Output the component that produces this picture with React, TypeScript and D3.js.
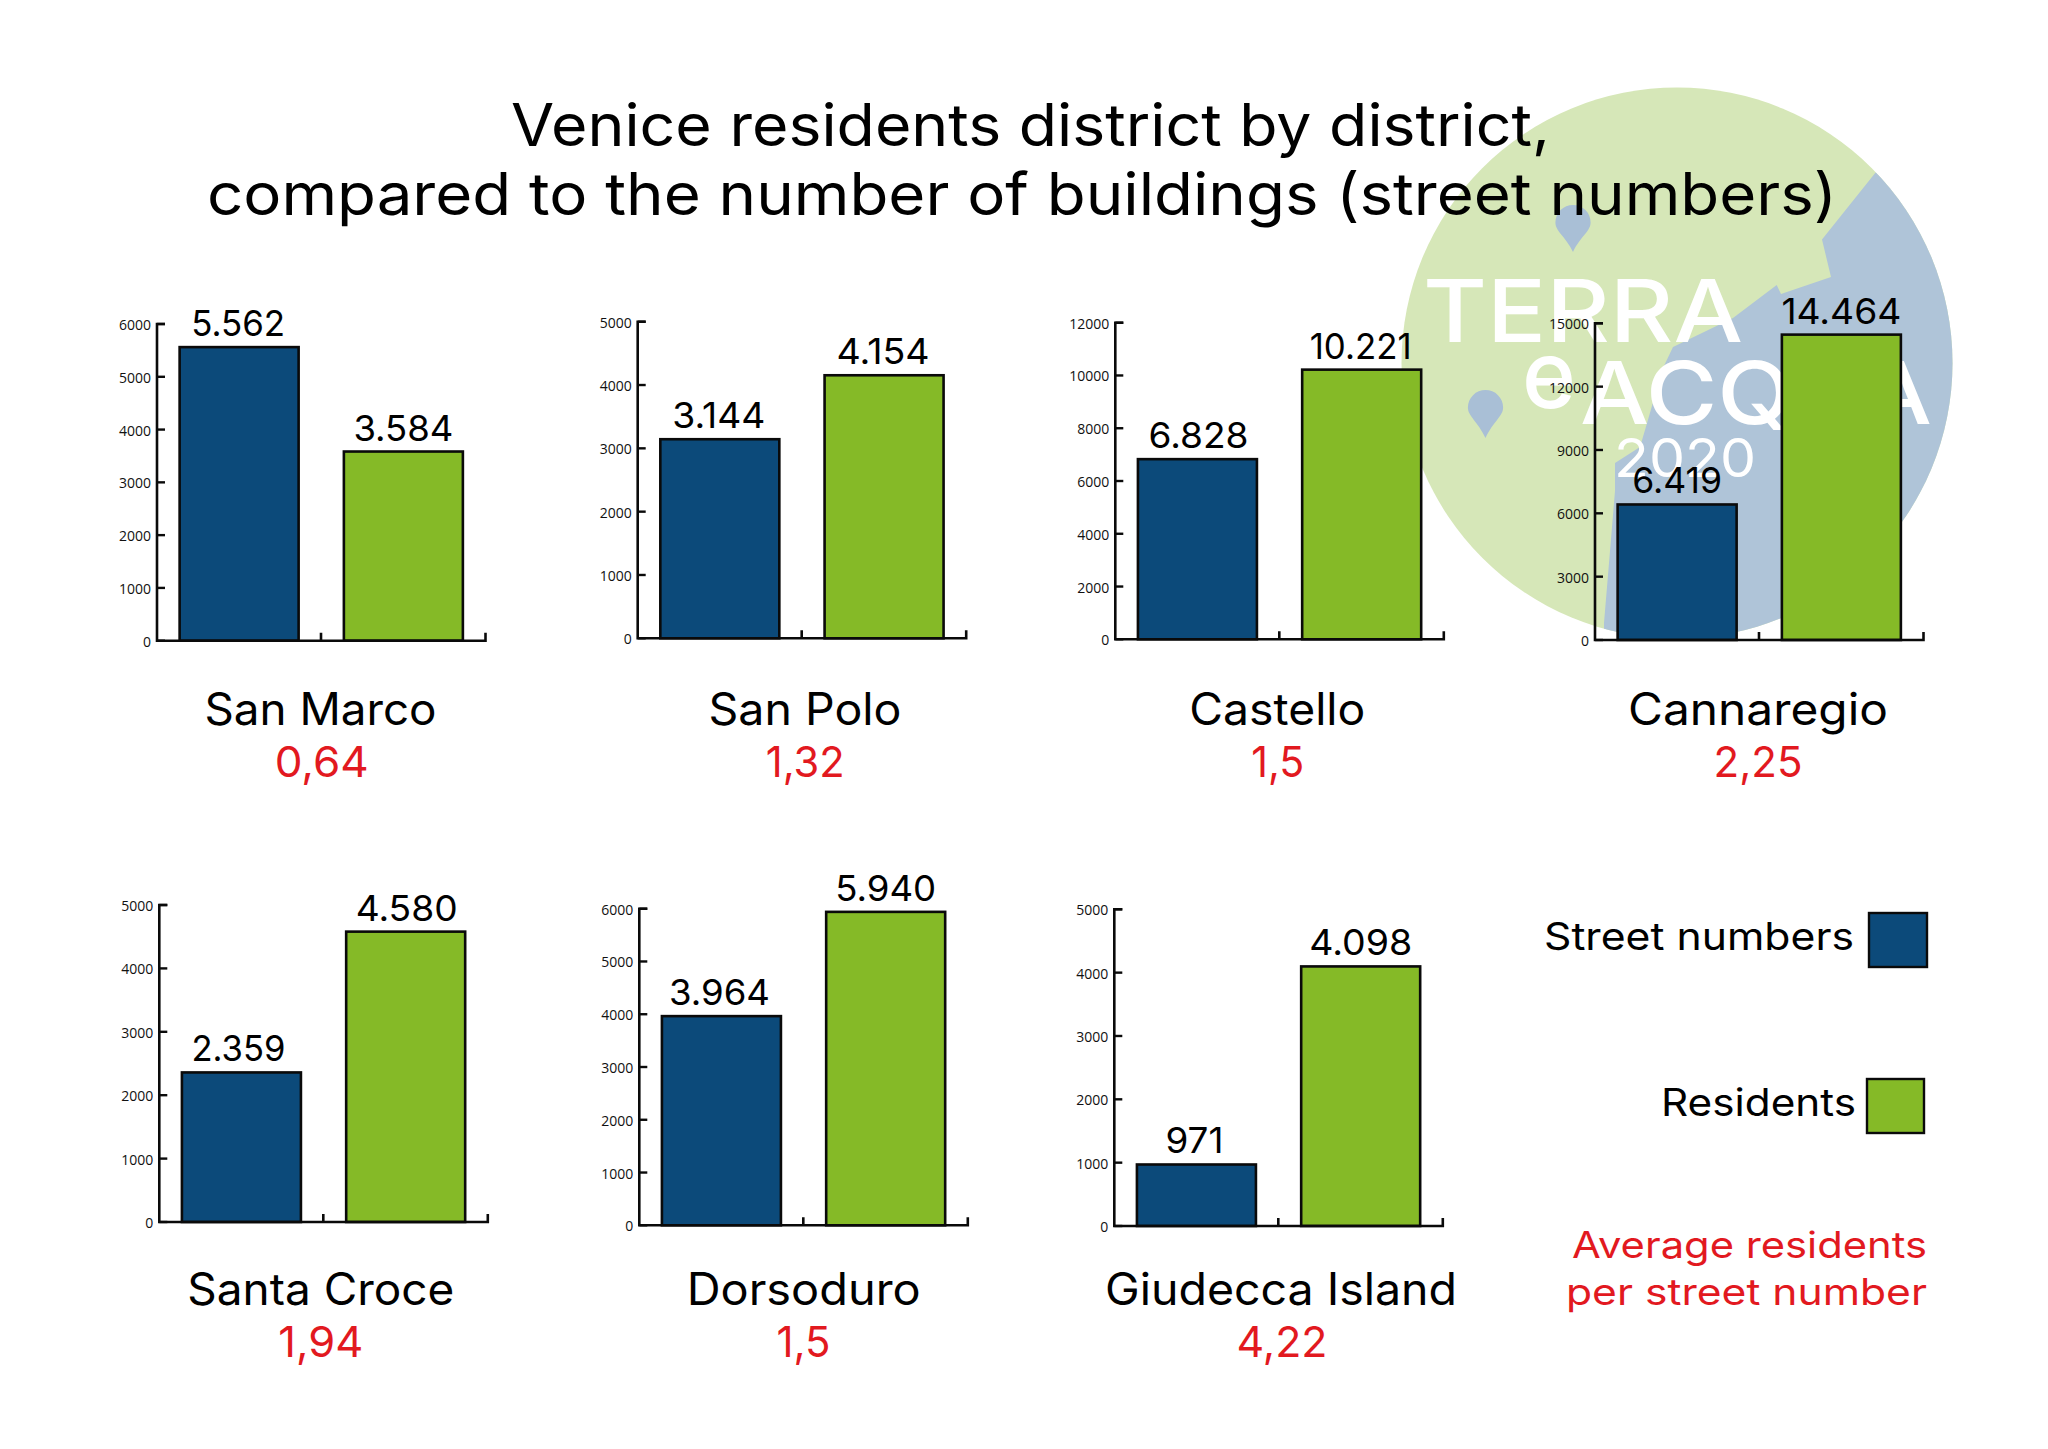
import React from "react";
import * as d3 from "d3";

// ---- data ----
const districts = ["San Marco", "San Polo", "Castello", "Cannaregio", "Santa Croce", "Dorsoduro", "Giudecca Island"];
const streetNumbers = [5562, 3144, 6828, 6419, 2359, 3964, 971];
const residents = [3584, 4154, 10221, 14464, 4580, 5940, 4098];
const streetLabels = ["5.562", "3.144", "6.828", "6.419", "2.359", "3.964", "971"];
const residentLabels = ["3.584", "4.154", "10.221", "14.464", "4.580", "5.940", "4.098"];
const ratios = ["0,64", "1,32", "1,5", "2,25", "1,94", "1,5", "4,22"];
const axisMax = [6000, 5000, 12000, 15000, 5000, 6000, 5000];
const axisStep = [1000, 1000, 2000, 3000, 1000, 1000, 1000];

// ---- layout ----
const axisX = [157, 637.7, 1115.3, 1595, 159.3, 639.3, 1114.3];
const axisTop = [324, 321.7, 322.7, 323.3, 905, 908.7, 909.3];
const axisBase = [640.7, 638.3, 639.3, 640, 1222, 1225.3, 1226];
const nameX = [320.5, 805, 1277.3, 1758, 320.8, 803.7, 1281];
const ratioX = [321.7, 805.2, 1277.7, 1758, 320.8, 803.5, 1282];
const rowNameY = [724.5, 724.5, 724.5, 724.5, 1304.5, 1304.5, 1304.5];
const rowRatioY = [777, 777, 777, 777, 1357, 1357, 1357];
const nameW = [232, 193, 176, 260, 267, 234, 352];
const ratioW = [94, 79, 53, 89, 85, 54, 91];
const streetW = [94, 93, 100, 90, 94, 101, 58];
const residentW = [100, 93, 102, 120, 102, 101, 103];
const streetDx = [-1, -1, 1, 0, -3, -2, -2];
const residentDx = [0, -1, -1, 0, 1, 0, 0];

const BLUE = "#0c4a7a";
const GREEN = "#85ba27";
const RED = "#e2191f";
const FONT = "Inter";

const logoShore: [number, number][] = [
  [1875.6, 172.6], [1822, 239.5], [1831, 277], [1781, 294], [1776.7, 285], [1733, 318], [1673, 347],
  [1663, 368], [1645, 430], [1640, 447], [1615, 463], [1615, 491], [1604, 623], [1604, 700], [2000, 700], [2000, 172.6],
];

function Pin({ x, top, tip, r, fill }: { x: number; top: number; tip: number; r: number; fill: string }) {
  const cy = top + r;
  const p = d3.path();
  p.moveTo(x, tip);
  p.bezierCurveTo(x - r * 0.45, tip - (tip - cy) * 0.55, x - r, cy + r * 0.5, x - r, cy);
  p.arc(x, cy, r, Math.PI, 0);
  p.bezierCurveTo(x + r, cy + r * 0.5, x + r * 0.45, tip - (tip - cy) * 0.55, x, tip);
  p.closePath();
  return <path d={p.toString()} fill={fill} />;
}

function Txt({ x, y, w, size, fill = "#000", anchor = "middle", weight = 400, children }: any) {
  return (
    <text x={x} y={y} fontFamily={FONT} fontSize={size} fontWeight={weight} fill={fill} textAnchor={anchor}
      textLength={w} lengthAdjust="spacingAndGlyphs">{children}</text>
  );
}

function Panel({ i }: { i: number }) {
  const ax = axisX[i], base = axisBase[i];
  const y = d3.scaleLinear().domain([0, axisMax[i]]).range([base, axisTop[i]]);
  const x = d3.scaleBand().domain(["s", "r"]).range([ax, ax + 328.5]);
  const barW = 119;
  const barX = (k: string) => (x(k) as number) + (x.bandwidth() - barW) / 2;
  const ticks = d3.range(0, axisMax[i] + 1, axisStep[i]);
  const bars = [
    { k: "s", v: streetNumbers[i], label: streetLabels[i], w: streetW[i], dx: streetDx[i], fill: BLUE },
    { k: "r", v: residents[i], label: residentLabels[i], w: residentW[i], dx: residentDx[i], fill: GREEN },
  ];
  return (
    <g>
      {bars.map((b) => (
        <g key={b.k}>
          <rect x={barX(b.k)} y={y(b.v)} width={barW} height={base - y(b.v)} fill={b.fill} stroke="#0a0a0a" strokeWidth={2.6} />
          <Txt x={barX(b.k) + barW / 2 + b.dx} y={y(b.v) - 11} w={b.w} size={35.5}>{b.label}</Txt>
        </g>
      ))}
      <path d={`M${ax + 8},${axisTop[i]}H${ax}V${base}H${ax + 328.5}V${base - 8}M${ax + 164},${base}V${base - 8}`} fill="none" stroke="#0a0a0a" strokeWidth={2.6} />
      {ticks.map((t) => (
        <g key={t}>
          <line x1={ax} x2={ax + 8} y1={y(t)} y2={y(t)} stroke="#0a0a0a" strokeWidth={2.4} />
          <text x={ax - 6} y={y(t) + 6} textAnchor="end" fontFamily="Open Sans" fontSize={14} fill="#111">{t}</text>
        </g>
      ))}
      <Txt x={nameX[i]} y={rowNameY[i]} w={nameW[i]} size={44.5}>{districts[i]}</Txt>
      <Txt x={ratioX[i]} y={rowRatioY[i]} w={ratioW[i]} size={43} fill={RED}>{ratios[i]}</Txt>
    </g>
  );
}

export default function App() {
  return (
    <svg width={2048} height={1449} viewBox="0 0 2048 1449" style={{ position: "absolute", left: 0, top: 0, display: "block", background: "#fff" }}>
      <defs>
        <clipPath id="globe"><circle cx={1677} cy={363} r={275.5} /></clipPath>
      </defs>
      <circle cx={1677} cy={363} r={275.5} fill="#d6e7b8" />
      <polygon points={logoShore.map((p) => p.join(",")).join(" ")} fill="#afc4d8" clipPath="url(#globe)" />
      <Pin x={1573} top={205} tip={252} r={17.6} fill="#a9bfd6" />
      <Pin x={1485.5} top={390} tip={438} r={17.6} fill="#a9bfd6" />
      <Txt x={1423} y={342} w={320} size={87} fill="#fff" anchor="start" weight={500}>TERRA</Txt>
      <Txt x={1522} y={408} w={54} size={94} fill="#fff" anchor="start" weight={500}>e</Txt>
      <Txt x={1580} y={424} w={352} size={87} fill="#fff" anchor="start" weight={500}>ACQUA</Txt>
      <Txt x={1614} y={477} w={142} size={53} fill="#fff" anchor="start" weight={400}>2020</Txt>

      <Txt x={511} y={146} w={1039} size={58.5} anchor="start">Venice residents district by district,</Txt>
      <Txt x={207} y={215} w={1630} size={58.5} anchor="start">compared to the number of buildings (street numbers)</Txt>

      {districts.map((_, i) => <Panel key={i} i={i} />)}

      <Txt x={1544} y={950} w={310} size={38} anchor="start">Street numbers</Txt>
      <rect x={1869} y={913} width={58} height={54} fill={BLUE} stroke="#0a0a0a" strokeWidth={2.4} />
      <Txt x={1661} y={1116} w={195} size={38} anchor="start">Residents</Txt>
      <rect x={1867} y={1079} width={57} height={54} fill={GREEN} stroke="#0a0a0a" strokeWidth={2.4} />
      <Txt x={1572} y={1258} w={355} size={37} fill={RED} anchor="start">Average residents</Txt>
      <Txt x={1566} y={1305} w={361} size={37} fill={RED} anchor="start">per street number</Txt>
    </svg>
  );
}
